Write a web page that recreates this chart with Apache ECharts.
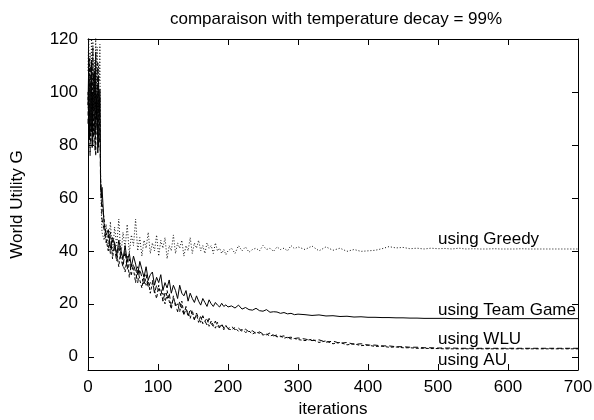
<!DOCTYPE html>
<html>
<head>
<meta charset="utf-8">
<script src="https://cdn.jsdelivr.net/npm/echarts@6/dist/echarts.min.js"></script>
<style>
  html, body { margin: 0; padding: 0; background: #fff; }
  #chart { width: 594px; height: 420px; }
</style>
</head>
<body>
<div id="chart"></div>
<script>
// sample positions (iterations)
var iters = [
  0, 1, 2, 3, 4, 5, 6, 7, 8, 9, 10, 11, 12, 13, 14, 15, 16, 17, 18, 19, 20,
  23, 26, 29, 32, 35, 38, 41, 44, 47, 50, 53, 56, 59, 62, 65, 68, 71, 74, 77, 80,
  83, 86, 89, 92, 95, 98, 101, 104, 107, 110, 113, 116, 119, 122, 125, 128, 131, 134, 137, 140,
  143, 146, 149, 152, 155, 158, 161, 164, 167, 170, 173, 176, 179, 182, 185, 188, 191, 194, 197, 200,
  205, 210, 215, 220, 225, 230, 235, 240, 245, 250, 255, 260, 265, 270, 275, 280, 285, 290, 295, 300,
  310, 320, 330, 340, 350, 360, 370, 380, 390, 400, 410, 420, 430, 440, 450, 460, 470, 480, 490, 500,
  510, 520, 530, 540, 550, 560, 570, 580, 590, 600, 610, 620, 630, 640, 650, 660, 670, 680, 690, 700
];

var greedy = [
  108, 121, 97, 115, 88, 124, 102, 119, 93, 112, 85, 122, 99, 117, 90, 110, 104, 118, 68, 55, 47,
  44, 50, 40, 51, 39, 49, 42, 52, 38, 47, 41, 50, 39, 46, 42, 52, 40, 45, 38, 44,
  41, 47, 39, 43, 40, 46, 38, 44, 41, 45, 37, 42, 40, 46, 39, 43, 41, 44, 38, 42,
  40, 45, 39, 43, 41, 44, 40, 42, 39, 43, 41, 42, 39, 43, 40, 41, 39, 40.5, 38.5, 40,
  41, 39, 42, 40, 41.5, 39.5, 40.5, 41, 40, 42, 40.5, 41, 39.8, 41.5, 40.5, 41, 40, 42, 40.8, 41.5,
  40.5, 41.8, 40, 41.5, 40.2, 41, 39.8, 40.5, 39.8, 40, 40.2, 40.8, 41.6, 41.1, 41.3, 40.8, 41, 40.7, 41, 40.8,
  40.9, 40.7, 41, 40.7, 40.8, 40.7, 40.7, 40.8, 40.7, 40.7, 40.7, 40.8, 40.7, 40.7, 40.7, 40.7, 40.7, 40.7, 40.7, 40.7
];

var teamGame = [
  95, 110, 82, 104, 88, 112, 79, 100, 93, 108, 85, 115, 90, 98, 77, 106, 92, 101, 66, 60, 64,
  50, 46, 48, 41, 45, 43, 38, 44, 40, 37, 42, 36, 39, 34, 38, 35, 31, 36, 33, 30,
  34, 29, 31, 32, 27, 30, 28, 31, 25, 28, 26, 29, 24, 27, 25, 22, 27, 24, 23, 25,
  21, 24, 22, 20.5, 23, 21, 19.5, 22, 20.5, 19, 21.5, 20, 19, 20.5, 19.5, 18.8, 20.2, 19, 19.6, 18.8,
  19.2, 18.4, 19.5, 18, 18.6, 17.8, 17.6, 18.3, 17.4, 17.2, 17.8, 16.8, 17, 16.9, 16.4, 16.7, 16.2, 16.4, 15.9, 16.1,
  15.9, 15.6, 15.8, 15.4, 15.5, 15.2, 15.3, 15, 15.1, 14.9, 14.9, 14.8, 14.8, 14.7, 14.7, 14.6, 14.6, 14.5, 14.5, 14.5,
  14.5, 14.4, 14.4, 14.4, 14.4, 14.4, 14.4, 14.4, 14.4, 14.4, 14.4, 14.4, 14.4, 14.4, 14.4, 14.4, 14.4, 14.4, 14.4, 14.4
];

var wlu = [
  88, 104, 92, 76, 110, 85, 99, 80, 107, 90, 78, 102, 94, 84, 111, 79, 96, 88, 64, 60, 52,
  48, 43, 46, 39, 44, 41, 36, 42, 37, 34, 40, 33, 37, 31, 35, 32, 28, 33, 30, 27,
  31, 26, 28, 29, 24, 27, 25, 26, 21, 24, 22, 24, 19, 22, 20, 17, 21, 18, 16, 19,
  15, 18, 16, 14, 16.5, 14.5, 13, 15.5, 13.5, 12, 14.5, 12.5, 11.5, 13.5, 11.5, 11, 12.5, 10.8, 11.8, 10.6,
  11.5, 10.2, 10.8, 9.6, 10.4, 9.4, 9.8, 8.8, 9.4, 8.6, 8.3, 9, 7.9, 8.2, 7.6, 7.9, 7.2, 7.4, 6.9, 7.1,
  6.7, 6.1, 6.4, 5.5, 5.9, 5.1, 5.4, 4.7, 4.9, 4.4, 4.4, 4.1, 4.1, 3.8, 3.8, 3.6, 3.6, 3.4, 3.4, 3.3,
  3.3, 3.3, 3.2, 3.2, 3.2, 3.2, 3.2, 3.2, 3.2, 3.2, 3.2, 3.2, 3.2, 3.2, 3.2, 3.2, 3.2, 3.2, 3.2, 3.2
];

var au = [
  100, 84, 113, 95, 81, 105, 91, 117, 83, 97, 109, 76, 99, 87, 103, 93, 81, 98, 67, 63, 58,
  52, 44, 40, 47, 37, 43, 39, 34, 41, 35, 32, 38, 30, 35, 33, 28, 34, 29, 26, 31,
  27, 29, 24, 28, 25, 22, 27, 23, 24, 20, 25, 21, 18, 23, 19, 20, 17, 21, 16, 18,
  16.5, 14.5, 17.5, 14, 16, 13, 15.5, 12.5, 13.5, 14.5, 11.5, 13.5, 12, 10.8, 13, 11, 12, 10.2, 11.8, 10.5,
  10.2, 11, 9.6, 10.3, 9.2, 9.7, 8.6, 9.3, 8.9, 8.2, 8.6, 7.8, 8.3, 7.5, 7.8, 7, 7.4, 6.7, 6.9, 6.5,
  6.1, 6.6, 5.4, 6, 4.9, 5.4, 4.5, 4.9, 4.2, 4.4, 3.9, 4, 3.6, 3.7, 3.4, 3.4, 3.2, 3.2, 3.1, 3.1,
  3, 3, 3, 3, 3, 3, 3, 3, 3, 3, 3, 3, 3, 3, 3, 3, 3, 3, 3, 3
];

var labelTexts = ['using Greedy', 'using Team Game', 'using WLU', 'using AU'];
var labelX = [500, 500, 500, 500];
var labelY = [44.4, 17.7, 6.5, -1.2];

var xTicks = [0, 100, 200, 300, 400, 500, 600, 700];
var yTicks = [0, 20, 40, 60, 80, 100, 120];

function pairs(ys) {
  return iters.map(function (x, i) { return [x, ys[i]]; });
}

var font = 'Liberation Sans, Arial, Helvetica, sans-serif';
var myChart = echarts.init(document.getElementById('chart'));

var lineBase = { type: 'line', showSymbol: false, symbol: 'none', animation: false, clip: true };
var frameLine = { show: true, onZero: false, lineStyle: { color: '#000', width: 1 } };
var frameTick = { show: true, inside: true, length: 6, lineStyle: { color: '#000' } };

var option = {
  animation: false,
  backgroundColor: '#fff',
  title: {
    text: 'comparaison with temperature decay = 99%',
    left: 165,
    top: 6,
    textStyle: { fontFamily: font, fontSize: 17, fontWeight: 'normal', color: '#000' }
  },
  grid: { left: 88, right: 16, top: 39, bottom: 50, outerBoundsMode: 'none', containLabel: false },
  xAxis: [
    {
      type: 'value', min: 0, max: 700, interval: 100,
      name: 'iterations', nameLocation: 'middle', nameGap: 29,
      nameTextStyle: { fontFamily: font, fontSize: 17, color: '#000' },
      axisLine: frameLine,
      axisTick: frameTick,
      axisLabel: { fontFamily: font, fontSize: 17, color: '#000', margin: 9 },
      splitLine: { show: false }
    },
    {
      type: 'value', min: 0, max: 700, interval: 100, position: 'top',
      axisLine: frameLine,
      axisTick: frameTick,
      axisLabel: { show: false },
      splitLine: { show: false }
    }
  ],
  yAxis: [
    {
      type: 'value', min: -5, max: 120,
      name: 'World Utility G', nameLocation: 'middle', nameGap: 62,
      nameTextStyle: { fontFamily: font, fontSize: 17, color: '#000' },
      axisLine: frameLine,
      axisTick: Object.assign({}, frameTick, { customValues: yTicks }),
      axisLabel: { fontFamily: font, fontSize: 17, color: '#000', margin: 10, customValues: yTicks },
      splitLine: { show: false }
    },
    {
      type: 'value', min: -5, max: 120, position: 'right',
      axisLine: frameLine,
      axisTick: Object.assign({}, frameTick, { customValues: yTicks }),
      axisLabel: { show: false, customValues: yTicks },
      splitLine: { show: false }
    }
  ],
  series: [
    Object.assign({}, lineBase, {
      name: 'AU', data: pairs(au),
      lineStyle: { color: '#000', width: 1, type: [3, 2] }
    }),
    Object.assign({}, lineBase, {
      name: 'WLU', data: pairs(wlu),
      lineStyle: { color: '#000', width: 1, type: [5, 3] }
    }),
    Object.assign({}, lineBase, {
      name: 'Team Game', data: pairs(teamGame),
      lineStyle: { color: '#000', width: 1, type: 'solid' }
    }),
    Object.assign({}, lineBase, {
      name: 'Greedy', data: pairs(greedy),
      lineStyle: { color: '#111', width: 1, type: [1, 2] }
    }),
    {
      type: 'scatter', name: 'labels', symbolSize: 0, animation: false, silent: true,
      data: labelTexts.map(function (t, i) { return [labelX[i], labelY[i], t]; }),
      label: {
        show: true, position: 'right', distance: 0,
        formatter: function (p) { return p.data[2]; },
        fontFamily: font, fontSize: 17, color: '#000', opacity: 1
      }
    }
  ]
};

myChart.setOption(option);
</script>
</body>
</html>
